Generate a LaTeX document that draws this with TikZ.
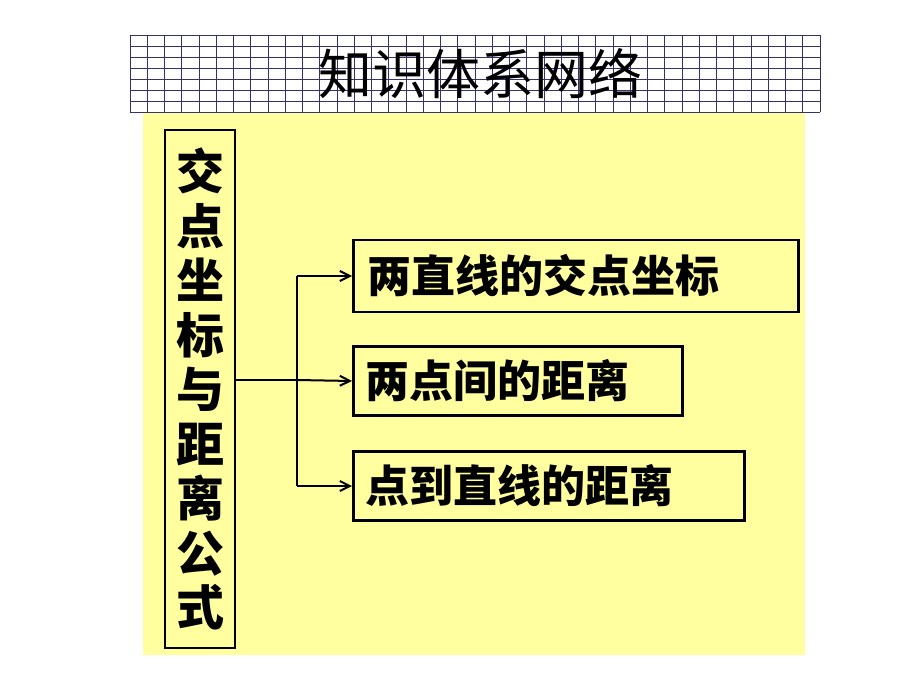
\documentclass[tikz,border=0pt]{standalone}
\usepackage{fontspec}
\newfontfamily\cjk{Noto Sans CJK SC}
\usetikzlibrary{arrows.meta,positioning}
\definecolor{paleyellow}{RGB}{255,255,160}
\definecolor{gridblue}{RGB}{50,50,110}
\begin{document}
\begin{tikzpicture}[x=1pt,y=-1pt,font=\cjk,
  item box/.style={draw,line width=2.5pt,anchor=west,inner sep=0pt,align=left,
    font=\cjk\bfseries\fontsize{44}{44}\selectfont},
  link/.style={line width=2pt,-{Straight Barb[length=10pt,width=10pt]}}]
  \useasboundingbox (0,0) rectangle (920,690);
  % header grid
  \foreach \i in {0,...,40} \draw[gridblue,line width=0.7pt] (130+17.25*\i,35) -- (130+17.25*\i,112);
  \foreach \j in {0,...,7} \draw[gridblue,line width=0.7pt] (130,35+11*\j) -- (820,35+11*\j);
  \node[font=\cjk\fontsize{54}{54}\selectfont] (title) at (480,74) {知识体系网络};
  % background panel
  \fill[paleyellow] (143,113) rectangle (805,655);
  % left vertical box
  \draw[line width=2.5pt] (165,130) rectangle (235,648);
  \node[font=\cjk\bfseries\fontsize{48}{54.5}\selectfont,align=center] (main) at (200,389)
    {交\\点\\坐\\标\\与\\距\\离\\公\\式};
  \coordinate (root) at (235,380);
  \coordinate (fork) at (297,380);
  % right boxes
  \node[item box,text width=445pt,minimum height=72] (b1) at (352,276) {\hspace*{14pt}两直线的交点坐标};
  \node[item box,text width=329pt,minimum height=69] (b2) at (352,381) {\hspace*{12pt}两点间的距离};
  \node[item box,text width=391pt,minimum height=69] (b3) at (352,486) {\hspace*{12pt}点到直线的距离};
  \draw[line width=2pt] (root) -- (fork);
  \draw[line width=2pt] (fork |- b1.west) -- (fork |- b3.west);
  \draw[link] (fork |- b1.west) -- (b1.west);
  \draw[link] (fork) -- (b2.west);
  \draw[link] (fork |- b3.west) -- (b3.west);
\end{tikzpicture}
\end{document}
